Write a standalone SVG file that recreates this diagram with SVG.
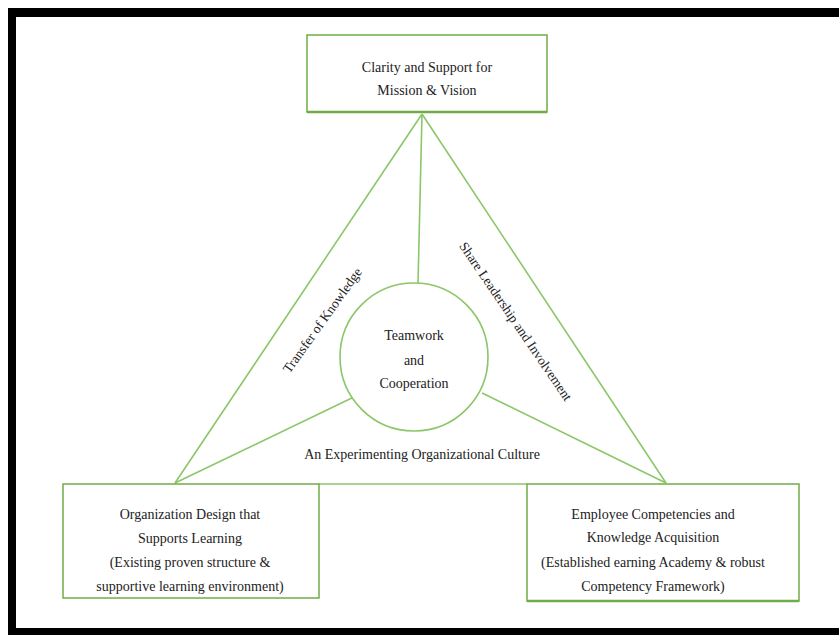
<svg xmlns="http://www.w3.org/2000/svg" width="839" height="635" viewBox="0 0 839 635">
  <style>
    .box { fill: #ffffff; stroke: #70ad47; stroke-width: 1.5; }
    .edge { fill: none; stroke: #8cc66a; stroke-width: 1.6; }
    text { font-family: "Liberation Serif", "DejaVu Serif", serif; font-size: 14px; fill: #222222; text-anchor: middle; }
    .side { font-size: 13.5px; }
  </style>
  <rect width="839" height="635" fill="#ffffff"/>
  <!-- outer frame -->
  <g id="frame" fill="#000000">
    <rect x="8" y="8" width="831" height="9"/>
    <rect x="8" y="8" width="8" height="627"/>
    <rect x="8" y="628" width="831" height="7"/>
  </g>

  <!-- connectors -->
  <g id="connectors" class="edge">
    <line x1="422" y1="114" x2="175" y2="483"/>
    <line x1="422" y1="114" x2="666" y2="483"/>
    <line x1="422" y1="114" x2="418" y2="284"/>
    <line x1="356" y1="396" x2="175" y2="483"/>
    <line x1="482" y1="393" x2="666" y2="483"/>
    <line x1="319" y1="484" x2="527" y2="484"/>
  </g>

  <g id="edge-labels">
    <text class="side" transform="translate(326,323) rotate(-54.5)">Transfer of Knowledge</text>
    <text class="side" transform="translate(512,324) rotate(55.7)">Share Leadership and Involvement</text>
    <text x="422" y="459" font-size="14.5">An Experimenting Organizational Culture</text>
  </g>

  <g id="node-mission">
    <rect class="box" x="307" y="35" width="240" height="77"/>
    <line x1="307" y1="112" x2="547" y2="112" stroke="#70ad47" stroke-width="2.5"/>
    <text x="427" y="72">Clarity and Support for</text>
    <text x="427" y="95">Mission &amp; Vision</text>
  </g>

  <g id="node-teamwork">
    <circle cx="414" cy="357" r="74" fill="#ffffff" stroke="#8cc66a" stroke-width="1.6"/>
    <text x="414" y="340">Teamwork</text>
    <text x="414" y="365">and</text>
    <text x="414" y="388">Cooperation</text>
  </g>

  <g id="node-design">
    <rect class="box" x="63" y="484" width="256" height="114"/>
    <text x="190" y="519">Organization Design that</text>
    <text x="190" y="543">Supports Learning</text>
    <text x="190" y="567">(Existing proven structure &amp;</text>
    <text x="190" y="591">supportive learning environment)</text>
  </g>

  <g id="node-competencies">
    <rect class="box" x="527" y="484" width="272" height="117"/>
    <line x1="527" y1="601" x2="799" y2="601" stroke="#70ad47" stroke-width="2.5"/>
    <text x="653" y="519">Employee Competencies and</text>
    <text x="653" y="542">Knowledge Acquisition</text>
    <text x="653" y="567">(Established earning Academy &amp; robust</text>
    <text x="653" y="591">Competency Framework)</text>
  </g>
</svg>
